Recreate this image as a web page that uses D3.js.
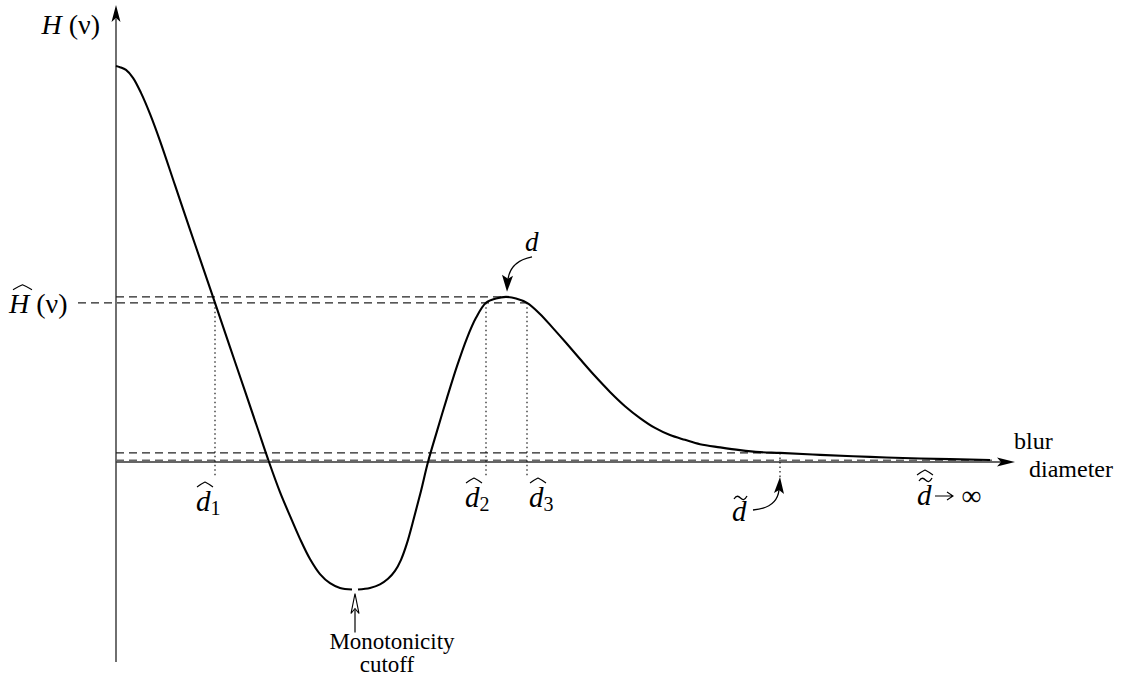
<!DOCTYPE html>
<html>
<head>
<meta charset="utf-8">
<script src="https://cdn.jsdelivr.net/npm/d3@7"></script>
<style>
  body { margin: 0; background: #fff; }
  text { font-family: "Liberation Serif", "Times New Roman", serif; fill: #000; }
</style>
</head>
<body>
<svg id="chart" width="1123" height="679"></svg>
<script>
// Transfer value H(ν) against blur diameter, left branch up to the cutoff, right branch after it
const leftX  = [0, 4, 10, 17, 25, 34, 44, 59, 74, 84, 99, 114, 129, 142, 153, 164, 174, 184, 194, 204, 214, 224, 236];
const leftH  = [1.000, 0.997, 0.990, 0.970, 0.932, 0.879, 0.811, 0.699, 0.587, 0.513, 0.402, 0.290, 0.179, 0.082,
                0.000, -0.076, -0.136, -0.194, -0.245, -0.283, -0.306, -0.318, -0.322];
const rightX = [242, 254, 264, 272, 279, 285, 291, 298, 305, 312, 321, 331, 341, 351, 360, 370, 380, 390, 400, 411,
                424, 437, 450, 464, 479, 494, 509, 524, 539, 554, 569, 584, 604, 624, 644, 664, 704, 754, 804, 874];
const rightH = [-0.322, -0.318, -0.309, -0.295, -0.275, -0.247, -0.205, -0.141, -0.073, 0.000, 0.078, 0.162, 0.242,
                0.313, 0.364, 0.402, 0.413, 0.417, 0.413, 0.402, 0.374, 0.338, 0.301, 0.260, 0.217, 0.177, 0.141,
                0.111, 0.086, 0.068, 0.056, 0.045, 0.037, 0.030, 0.025, 0.023, 0.018, 0.013, 0.009, 0.005];

// Reference levels
const peakX = 390, peakH = 0.417;     // local maximum d
const hatH = 0.402;                   // Ĥ(ν)
const tildeH = 0.023;                 // level reached at d̃
const limitH = 0.004;                 // level as d → ∞
const dHat = [99, 370, 411];          // d̂1, d̂2, d̂3
const dTilde = 664;                   // d̃
const dLimit = 874;
const cutoffX = 239;                  // monotonicity cutoff

const svg = d3.select("#chart");
const x = d3.scaleLinear().domain([0, 899]).range([116, 1015]);
const y = d3.scaleLinear().domain([-0.505, 1.154]).range([662, 5]);

// Axes without ticks
const axisColor = "#333";
svg.append("g").attr("transform", `translate(0,${y(0)})`)
  .call(d3.axisBottom(x).tickValues([]).tickSizeOuter(0))
  .call(g => g.select(".domain").attr("stroke", axisColor).attr("stroke-width", 1.4).attr("d", `M${x(0)},0H${x(889)}`));
svg.append("g").attr("transform", `translate(${x(0)},0)`)
  .call(d3.axisLeft(y).tickValues([]).tickSizeOuter(0))
  .call(g => g.select(".domain").attr("stroke", axisColor).attr("stroke-width", 1.4).attr("d", `M0,${y(-0.505)}V${y(1.12)}`));

// Arrowheads
svg.append("path").attr("fill", "#000")
  .attr("d", `M${x(899)},${y(0)} L${x(881)},${y(0) - 4.5} L${x(885)},${y(0)} L${x(881)},${y(0) + 4.5} Z`);
svg.append("path").attr("fill", "#000")
  .attr("d", `M${x(0)},${y(1.154)} L${x(0) - 4.5},${y(1.154) + 17} L${x(0)},${y(1.154) + 13} L${x(0) + 4.5},${y(1.154) + 17} Z`);

// Dashed reference levels
const dash = (x0px, x1, h) => svg.append("line")
  .attr("x1", x0px).attr("x2", x(x1)).attr("y1", y(h)).attr("y2", y(h))
  .attr("stroke", "#222").attr("stroke-width", 1.2).attr("stroke-dasharray", "8,5");
dash(x(0), peakX + 2, peakH);
dash(78, dHat[2], hatH);
dash(x(0), dTilde, tildeH);
dash(x(0), dLimit + 2, limitH).attr("stroke", "#666").attr("stroke-width", 1.6);

// Dotted drop lines
const dot = (xv, h0, h1) => svg.append("line")
  .attr("x1", x(xv)).attr("x2", x(xv)).attr("y1", y(h0)).attr("y2", y(h1))
  .attr("stroke", "#000").attr("stroke-width", 1.1).attr("stroke-dasharray", "1.5,3");
dHat.forEach(v => dot(v, hatH, -0.036));
dot(dTilde, tildeH, -0.04);

// Curve
const line = d3.line().x(d => x(d[0])).y(d => y(d[1])).curve(d3.curveCatmullRom.alpha(0.5));
[[leftX, leftH], [rightX, rightH]].forEach(([xs, hs]) => {
  svg.append("path").datum(xs.map((v, i) => [v, hs[i]]))
    .attr("fill", "none").attr("stroke", "#000").attr("stroke-width", 2.1)
    .attr("stroke-linejoin", "round").attr("d", line);
});

// Accent helpers
function hat(g, x0, y0, w) {
  g.append("path").attr("fill", "none").attr("stroke", "#000").attr("stroke-width", 1.1)
    .attr("d", `M${x0},${y0 + 5} Q${x0 + w * 0.3},${y0 + 1.5} ${x0 + w / 2},${y0} Q${x0 + w * 0.7},${y0 + 1.5} ${x0 + w},${y0 + 5}`);
}
function tilde(g, x0, y0, w) {
  g.append("path").attr("fill", "none").attr("stroke", "#000").attr("stroke-width", 1.3)
    .attr("d", `M${x0},${y0 + 3} C${x0 + w * 0.2},${y0 - 1} ${x0 + w * 0.35},${y0} ${x0 + w * 0.5},${y0 + 2} C${x0 + w * 0.65},${y0 + 4} ${x0 + w * 0.8},${y0 + 5} ${x0 + w},${y0}`);
}

// Axis titles
const t1 = svg.append("text").attr("x", 100).attr("y", 34).attr("text-anchor", "end").attr("font-size", 28);
t1.append("tspan").attr("font-style", "italic").text("H");
t1.append("tspan").text(" (ν)");

const g2 = svg.append("g").attr("transform", `translate(9,${y(hatH) + 10})`);
const t2 = g2.append("text").attr("font-size", 28);
t2.append("tspan").attr("font-style", "italic").text("H");
t2.append("tspan").text(" (ν)");
hat(g2, 4, -28, 19);

const tb = svg.append("text").attr("font-size", 24);
tb.append("tspan").attr("x", 1014).attr("y", y(0) - 13).text("blur");
tb.append("tspan").attr("x", 1029).attr("y", y(0) + 15).text("diameter");

// d̂ labels under the axis
const hatLabels = [
  { v: dHat[0], sub: "1", dx: -19, base: 511 },
  { v: dHat[1], sub: "2", dx: -21, base: 507 },
  { v: dHat[2], sub: "3", dx: 2, base: 507 }
];
hatLabels.forEach(l => {
  const g = svg.append("g").attr("transform", `translate(${x(l.v) + l.dx},${l.base})`);
  const t = g.append("text").attr("font-size", 29);
  t.append("tspan").attr("font-style", "italic").text("d");
  t.append("tspan").attr("font-size", 20).attr("dy", 4).text(l.sub);
  hat(g, 1, -29, 16);
});

// Peak label d with curved arrow
{
  const px = x(peakX), py = y(peakH);
  svg.append("text").attr("x", px + 19).attr("y", py - 46).attr("font-size", 27)
    .attr("font-style", "italic").text("d");
  svg.append("path").attr("fill", "none").attr("stroke", "#000").attr("stroke-width", 1.3)
    .attr("d", `M${px + 26},${py - 40} Q${px + 5},${py - 36} ${px + 2},${py - 18}`);
  svg.append("path").attr("fill", "#000")
    .attr("d", `M${px + 1},${py - 5} L${px - 4},${py - 22} L${px + 2},${py - 18} L${px + 7},${py - 21} Z`);
}

// d̃ label with curved arrow
{
  const tx = x(dTilde), ty = y(0);
  const g = svg.append("g").attr("transform", `translate(${tx - 48},${ty + 59})`);
  g.append("text").attr("font-size", 29).attr("font-style", "italic").text("d");
  tilde(g, 2, -25, 13);
  svg.append("path").attr("fill", "none").attr("stroke", "#000").attr("stroke-width", 1.3)
    .attr("d", `M${tx - 27},${ty + 48} Q${tx - 3},${ty + 46} ${tx - 1},${ty + 28}`);
  svg.append("path").attr("fill", "#000")
    .attr("d", `M${tx},${ty + 15} L${tx + 4},${ty + 32} L${tx - 1},${ty + 28} L${tx - 6},${ty + 31} Z`);
}

// d̂̃ → ∞ label
{
  const g = svg.append("g").attr("transform", `translate(${x(dLimit) - 73},505)`);
  const t = g.append("text").attr("font-size", 29);
  t.append("tspan").attr("font-style", "italic").text("d");
  t.append("tspan").attr("font-size", 28).attr("dx", 30).text("∞");
  hat(g, 0, -35, 16);
  tilde(g, 2, -27, 13);
  // small arrow between d and ∞
  g.append("path").attr("fill", "none").attr("stroke", "#000").attr("stroke-width", 1.1)
    .attr("d", "M18,-9H35 M30,-13L36,-9L30,-5");
}

// Monotonicity cutoff marker
{
  const cx = x(cutoffX), cy = y(rightH[0]);
  svg.append("line").attr("x1", cx).attr("x2", cx).attr("y1", cy + 20).attr("y2", cy + 43)
    .attr("stroke", "#000").attr("stroke-width", 1.2);
  svg.append("path").attr("fill", "#fff").attr("stroke", "#000").attr("stroke-width", 1.1)
    .attr("d", `M${cx},${cy + 4} L${cx - 4},${cy + 24} L${cx},${cy + 19} L${cx + 4},${cy + 24} Z`);
  const t = svg.append("text").attr("text-anchor", "middle").attr("font-size", 23);
  t.append("tspan").attr("x", cx + 37).attr("y", 649).text("Monotonicity");
  t.append("tspan").attr("x", cx + 32).attr("y", 672).text("cutoff");
}
</script>
</body>
</html>
